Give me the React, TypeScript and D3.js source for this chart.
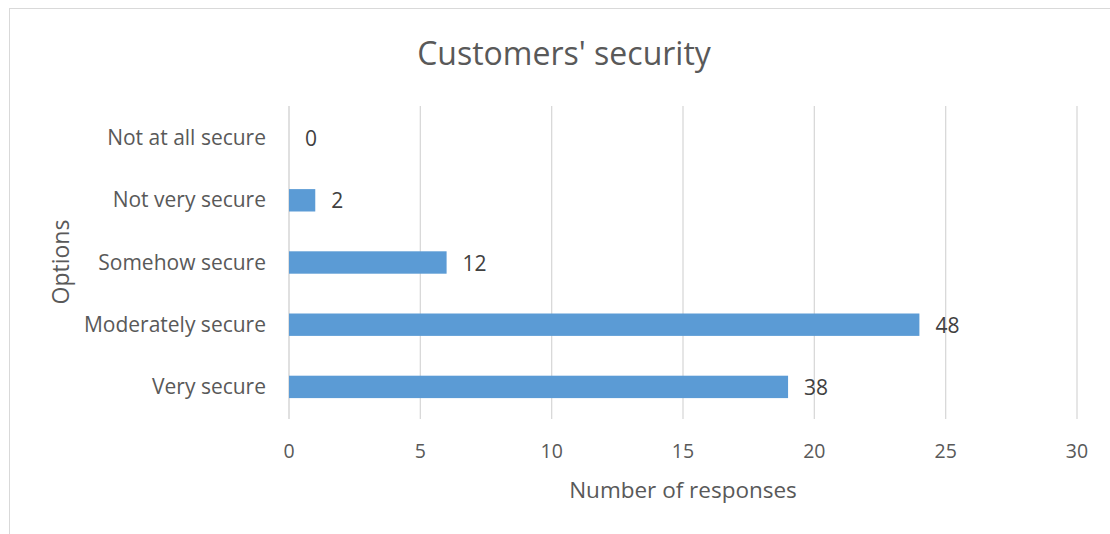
import React from "react";
import * as d3 from "d3";

const categories = ["Not at all secure", "Not very secure", "Somehow secure", "Moderately secure", "Very secure"];
const values = [0, 1, 6, 24, 19];
const labels = ["0", "2", "12", "48", "38"];
const xTicks = [0, 5, 10, 15, 20, 25, 30];
const title = "Customers' security";
const xTitle = "Number of responses";
const yTitle = "Options";

const W = 1110;
const H = 534;
const FONT = "'Open Sans', 'Liberation Sans', sans-serif";

export default function App() {
  const x = d3.scaleLinear().domain([0, 30]).range([289, 1077]);
  const y = d3.scaleBand<string>().domain(categories).range([107, 418]).paddingInner(0.64).paddingOuter(0.32);
  const bw = y.bandwidth();
  return (
    <svg width={W} height={H} style={{ position: "absolute", left: 0, top: 0, background: "#fff" }}>
      <rect x={9.5} y={8.5} width={W + 10} height={H + 10} fill="#fff" stroke="#d9d9d9" />
      <text x={564} y={65} textAnchor="middle" fontFamily={FONT} fontSize={32} fill="#595959">{title}</text>
      {xTicks.map((t) => (
        <g key={t}>
          <line x1={x(t)} x2={x(t)} y1={106} y2={419} stroke={t === 0 ? "#d0d0d0" : "#d9d9d9"} strokeWidth={1.3} />
          <text x={x(t)} y={458} textAnchor="middle" fontFamily={FONT} fontSize={19.5} fill="#595959">{t}</text>
        </g>
      ))}
      {categories.map((c, i) => {
        const yc = (y(c) as number) + bw / 2;
        return (
          <g key={c}>
            <text x={266} y={yc + 7} textAnchor="end" fontFamily={FONT} fontSize={21} fill="#595959">{c}</text>
            {values[i] > 0 && (
              <rect x={x(0)} y={y(c)} width={x(values[i]) - x(0)} height={bw} fill="#5b9bd5" />
            )}
            <text x={x(values[i]) + 16} y={yc + 8} fontFamily={FONT} fontSize={21} fill="#404040">{labels[i]}</text>
          </g>
        );
      })}
      <text x={683} y={498} textAnchor="middle" fontFamily={FONT} fontSize={22.5} fill="#595959">{xTitle}</text>
      <text transform={`translate(69,262) rotate(-90)`} textAnchor="middle" fontFamily={FONT} fontSize={23} fill="#595959">{yTitle}</text>
    </svg>
  );
}
